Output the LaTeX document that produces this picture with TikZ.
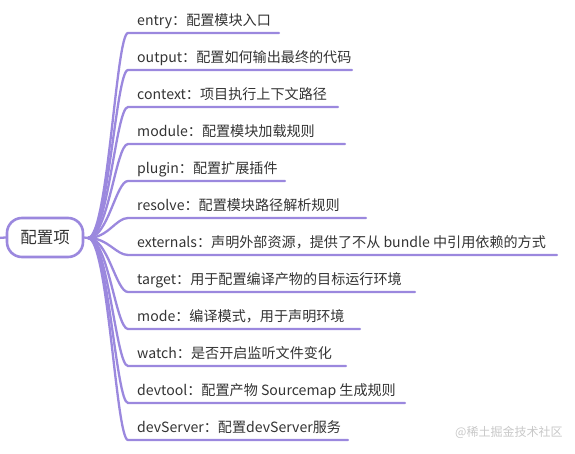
\documentclass[tikz,border=0pt]{standalone}
\usepackage{fontspec}
\setmainfont{Noto Sans CJK SC}
\usetikzlibrary{calc}
\definecolor{branch}{RGB}{155,136,222}
\definecolor{txt}{RGB}{51,51,51}
\definecolor{mark}{RGB}{200,200,200}
\begin{document}
\begin{tikzpicture}[x=1pt,y=-1pt,
  leaf/.style={anchor=base west,inner sep=0pt,font=\fontsize{14.1}{16}\selectfont,text=txt},
  link/.style={draw=branch,line width=2.3pt,line cap=round},
  rootbox/.style={draw=branch,line width=2.6pt,rounded corners=15pt,minimum width=76pt,minimum height=39pt,inner sep=0pt,font=\fontsize{16.5}{18}\selectfont,text=txt}]
\useasboundingbox (0,0) rectangle (575,454);
\node[rootbox] (root) at (45,237.5) {配置项};
\coordinate (stub) at (-2,238);
\draw[link] (stub) -- (root.west);
\coordinate (hub) at (88,238);
\draw[link] (root.east) -- (hub);
\foreach \i/\y/\e/\t in {
  1/33/279/{entry：配置模块入口},
  2/70/352/{output：配置如何输出最终的代码},
  3/107/338/{context：项目执行上下文路径},
  4/144/345/{module：配置模块加载规则},
  5/181/285/{plugin：配置扩展插件},
  6/218/366/{resolve：配置模块路径解析规则},
  7/255/557/{externals：声明外部资源，提供了不从 bundle 中引用依赖的方式},
  8/292/415/{target：用于配置编译产物的目标运行环境},
  9/329/360/{mode：编译模式，用于声明环境},
  10/366/346/{watch：是否开启监听文件变化},
  11/403/405/{devtool：配置产物 Sourcemap 生成规则},
  12/440/348/{devServer：配置devServer服务}} {
  \node[leaf] (b\i) at (137,\y-7.5) {\t};
  \coordinate (e\i) at (\e,\y);
  \draw[link] (hub) .. controls +(20,0) and ($(b\i.base west |- e\i)+(-21,0)$) .. ($(b\i.base west |- e\i)+(-9,0)$) -- (e\i);
}
\node[anchor=west,inner sep=0pt,font=\fontsize{12}{14}\selectfont,text=mark] (wm) at (455,432) {@稀土掘金技术社区};
\end{tikzpicture}
\end{document}
